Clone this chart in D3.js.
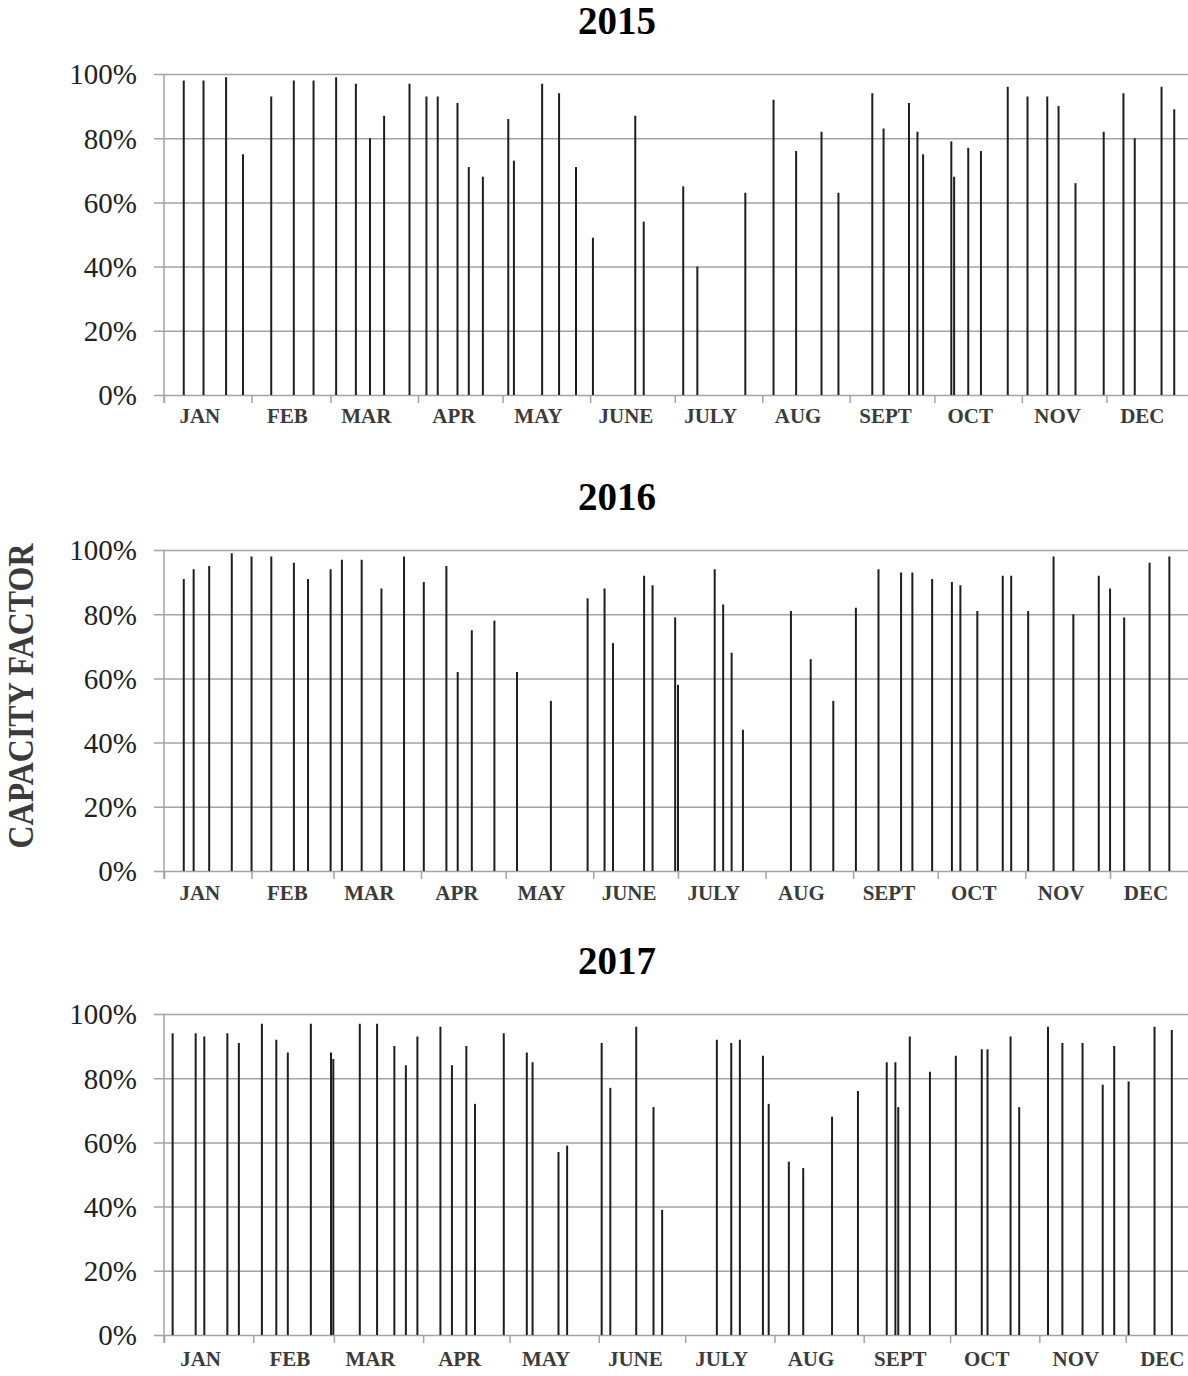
<!DOCTYPE html>
<html>
<head>
<meta charset="utf-8">
<script src="https://cdn.jsdelivr.net/npm/d3@7/dist/d3.min.js"></script>
<style>
  html, body { margin: 0; padding: 0; background: #fff; }
  svg { display: block; }
</style>
</head>
<body>
<div id="chart"></div>
<script>
// ----------------------------------
// DATA (day = days after Jan 1, value = capacity factor %)
// ----------------------------------
const monthLabels = ['JAN', 'FEB', 'MAR', 'APR', 'MAY', 'JUNE', 'JULY', 'AUG', 'SEPT', 'OCT', 'NOV', 'DEC'];
const yTicks = [0, 20, 40, 60, 80, 100];

const days2015 = [7, 14, 22, 28, 38, 46, 53, 61, 68, 73, 78, 87, 93, 97, 104, 108, 113, 122, 124, 134,
  140, 146, 152, 167, 170, 184, 189, 206, 216, 224, 233, 239, 251, 255, 264, 267, 269, 279, 280, 285,
  289.5, 299, 306, 313, 317, 323, 333, 340, 344, 353.5, 358];
const cf2015 = [98, 98, 99, 75, 93, 98, 98, 99, 97, 80, 87, 97, 93, 93, 91, 71, 68, 86, 73, 97,
  94, 71, 49, 87, 54, 65, 40, 63, 92, 76, 82, 63, 94, 83, 91, 82, 75, 79, 68, 77,
  76, 96, 93, 93, 90, 66, 82, 94, 80, 96, 89];

const days2016 = [7, 10.5, 16, 24, 31, 38, 46, 51, 59, 63, 70, 77, 85, 92, 100, 104, 109, 117, 125, 137,
  150, 156, 159, 170, 173, 181, 182, 195, 198, 201, 205, 222, 229, 237, 245, 253, 261, 265, 272, 279,
  282, 288, 297, 300, 306, 315, 322, 331, 335, 340, 349, 356];
const cf2016 = [91, 94, 95, 99, 98, 98, 96, 91, 94, 97, 97, 88, 98, 90, 95, 62, 75, 78, 62, 53,
  85, 88, 71, 92, 89, 79, 58, 94, 83, 68, 44, 81, 66, 53, 82, 94, 93, 93, 91, 90,
  89, 81, 92, 92, 81, 98, 80, 92, 88, 79, 96, 98];

const days2017 = [3, 11, 14, 22, 26, 34, 39, 43, 51, 58, 58.8, 68, 74, 80, 84, 88, 96, 100, 105, 108,
  118, 126, 128, 137, 140, 152, 155, 164, 170, 173, 192, 197, 200, 208, 210, 217, 222, 232, 241, 251,
  254, 255, 259, 266, 275, 284, 286, 294, 297, 307, 312, 319, 326, 330, 335, 344, 350];
const cf2017 = [94, 94, 93, 94, 91, 97, 92, 88, 97, 88, 86, 97, 97, 90, 84, 93, 96, 84, 90, 72,
  94, 88, 85, 57, 59, 91, 77, 96, 71, 39, 92, 91, 92, 87, 72, 54, 52, 68, 76, 85,
  85, 71, 93, 82, 87, 89, 89, 93, 71, 96, 91, 91, 78, 90, 79, 96, 95];

// ----------------------------------
// LAYOUT
// ----------------------------------
const width = 1188, height = 1376;
const left = 164;
const panels = [
  { year: 2015, days: days2015, values: cf2015, top: 74, bottom: 395, right: 1194, labelDy: 28 },
  { year: 2016, days: days2016, values: cf2016, top: 550, bottom: 871, right: 1197.6, labelDy: 29 },
  { year: 2017, days: days2017, values: cf2017, top: 1014, bottom: 1335, right: 1215, labelDy: 31 }
];

const serif = '"Liberation Serif", "Times New Roman", serif';
const gridColor = '#a3a3a3';
const DAY = 864e5;

const svg = d3.select('#chart')
  .append('svg')
  .attr('width', width)
  .attr('height', height);

panels.forEach(p => {
  const start = new Date(Date.UTC(p.year, 0, 1));
  const end = new Date(Date.UTC(p.year + 1, 0, 1));

  const x = d3.scaleUtc()
    .domain([start, end])
    .range([left, p.right]);

  const y = d3.scaleLinear()
    .domain([0, 100])
    .range([p.bottom, p.top]);

  const g = svg.append('g').classed('panel', true);

  // title
  g.append('text')
    .text(p.year)
    .attr('x', 617)
    .attr('y', p.top - 40)
    .attr('text-anchor', 'middle')
    .style('font-family', serif)
    .style('font-weight', 'bold')
    .style('font-size', '39px')
    .style('fill', '#000');

  // y axis with gridlines
  const yAxis = d3.axisLeft(y)
    .tickValues(yTicks)
    .tickSize(-(width - left + 10))
    .tickFormat(d => d + '%');

  const ya = g.append('g')
    .classed('axis y', true)
    .attr('transform', `translate(${left - 10},0)`)
    .call(yAxis);
  ya.select('.domain').remove();
  ya.selectAll('.tick line')
    .attr('x1', 0)
    .attr('x2', width - left + 10)
    .style('stroke', gridColor)
    .style('stroke-width', 1.5);
  ya.selectAll('.tick text')
    .attr('x', -17)
    .attr('dy', '0.34em')
    .style('font-family', serif)
    .style('font-size', '29px')
    .style('fill', '#222');

  // left axis line
  g.append('line')
    .attr('x1', left).attr('x2', left)
    .attr('y1', p.top).attr('y2', p.bottom + 8)
    .style('stroke', gridColor)
    .style('stroke-width', 1.5);

  // bottom month ticks
  const months = d3.utcMonth.range(start, end);
  const xAxis = d3.axisBottom(x)
    .tickValues(months)
    .tickSize(8)
    .tickFormat('');
  const xa = g.append('g')
    .classed('axis x', true)
    .attr('transform', `translate(0,${p.bottom})`)
    .call(xAxis);
  xa.select('.domain').remove();
  xa.selectAll('.tick line')
    .style('stroke', gridColor)
    .style('stroke-width', 1.5);

  g.selectAll('text.month')
    .data(months)
    .enter()
    .append('text')
      .classed('month', true)
      .text((d, i) => monthLabels[i])
      .attr('x', d => x(new Date(+d + 12.7 * DAY)))
      .attr('y', p.bottom + p.labelDy)
      .attr('text-anchor', 'middle')
      .style('font-family', serif)
      .style('font-weight', 'bold')
      .style('font-size', '21px')
      .style('fill', '#3b3b3b');

  // bars
  const data = p.days.map((d, i) => ({ date: new Date(+start + d * DAY), v: p.values[i] }));
  g.selectAll('line.bar')
    .data(data)
    .enter()
    .append('line')
      .classed('bar', true)
      .attr('x1', d => x(d.date))
      .attr('x2', d => x(d.date))
      .attr('y1', y(0))
      .attr('y2', d => y(d.v))
      .style('stroke', '#1e1e1e')
      .style('stroke-width', 2);
});

// shared y title
svg.append('text')
  .text('CAPACITY FACTOR')
  .attr('transform', 'translate(33,696) rotate(-90)')
  .attr('text-anchor', 'middle')
  .attr('textLength', 305)
  .attr('lengthAdjust', 'spacingAndGlyphs')
  .style('font-family', serif)
  .style('font-weight', 'bold')
  .style('font-size', '35px')
  .style('fill', '#3b3b3b');
</script>
</body>
</html>
